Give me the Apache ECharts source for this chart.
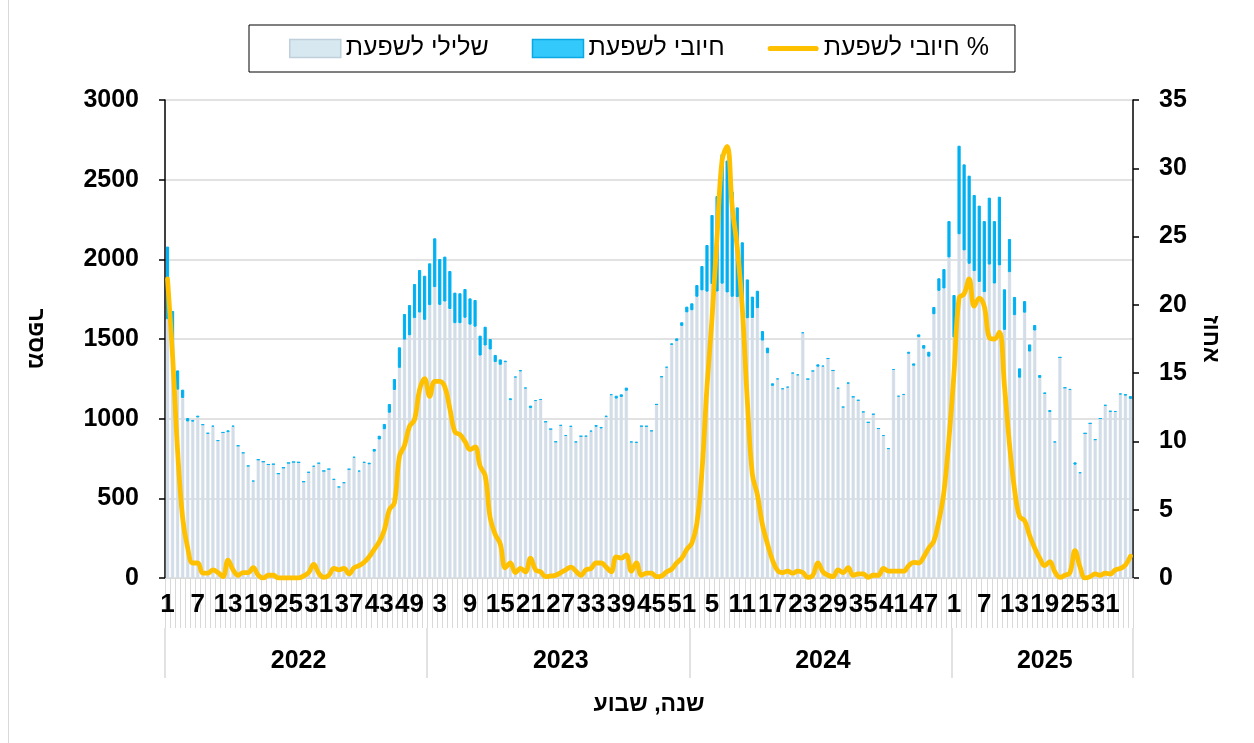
<!DOCTYPE html>
<html><head><meta charset="utf-8">
<script src="https://cdn.jsdelivr.net/npm/echarts@6/dist/echarts.min.js"></script>
<style>html,body{margin:0;padding:0;background:#fff;}#c{width:1254px;height:743px;}#f{position:absolute;left:8px;top:0;width:0;height:743px;border-left:1px solid #d9d9d9;}</style>
</head><body><div id="c"></div><div id="f"></div>
<script>
const yearLabels = ['2022', '2023', '2024', '2025'];
const weeksPerYear = [52, 52, 52, 36];
const yearBoundaryIdx = [0, 52, 104, 156];
const yearLabelIdx = [26, 78, 130, 174];

const negative2022 = [1624,1403,1182,1130,982,981,1008,961,907,950, 861,913,915,950,829,784,702,606,742,730, 712,714,655,692,722,728,726,604,662,698, 719,672,683,617,570,596,682,755,668,722, 713,793,869,933,1037,1180,1319,1496,1523,1631, 1666,1620];
const positive2022 = [456,273,121,52,22,11,11,3,3,6, 3,1,12,6,2,3,3,5,1,0, 1,1,0,0,0,0,0,1,3,7, 3,0,1,4,3,4,2,6,6,8, 11,17,24,34,55,69,129,161,190,214, 267,277];
const percent2022 = [21.9,16.3,9.3,4.4,2.2,1.1,1.1,0.35,0.35,0.6, 0.4,0.1,1.3,0.6,0.2,0.4,0.4,0.75,0.2,0, 0.2,0.2,0,0,0,0,0,0.15,0.4,1.0, 0.35,0.05,0.2,0.7,0.6,0.7,0.3,0.75,0.9,1.15, 1.55,2.1,2.65,3.5,5.0,5.5,8.9,9.7,11.1,11.6, 13.8,14.6];

const negative2023 = [1712,1825,1714,1735,1688,1599,1599,1633,1590,1577, 1396,1459,1434,1355,1338,1354,1116,1259,1296,1190, 1066,1110,1118,980,934,854,956,892,948,852, 889,888,919,949,938,1011,1148,1126,1136,1175, 852,847,952,951,922,1089,1262,1320,1463,1487, 1582,1667];
const positive2023 = [263,307,288,282,239,192,188,181,165,168, 125,118,66,45,34,10,12,5,9,5, 16,7,5,1,1,2,4,5,8,4, 2,5,6,11,10,8,5,18,17,20, 4,9,2,3,3,1,2,6,10,17, 23,36];
const percent2023 = [13.3,14.4,14.4,14.0,12.4,10.7,10.5,10.0,9.4,9.6, 8.2,7.5,4.4,3.2,2.5,0.75,1.1,0.4,0.7,0.45, 1.45,0.6,0.45,0.1,0.15,0.2,0.4,0.6,0.8,0.5, 0.2,0.6,0.7,1.1,1.1,0.8,0.45,1.55,1.45,1.7, 0.5,1.1,0.2,0.35,0.35,0.1,0.15,0.45,0.65,1.1, 1.45,2.1];

const negative2024 = [1680,1765,1805,1797,1845,1798,1847,1792,1765,1763, 1697,1630,1632,1693,1490,1410,1206,1246,1185,1195, 1284,1272,1536,1248,1298,1326,1327,1376,1302,1188, 1071,1219,1136,1114,1041,977,1027,937,891,810, 1305,1138,1149,1407,1332,1512,1439,1389,1655,1802, 1817,2012];
const positive2024 = [44,74,153,293,433,599,814,828,660,563, 410,244,134,110,60,36,16,7,5,6, 5,6,6,1,3,15,6,3,1,7, 4,9,2,3,3,0,2,2,6,4, 7,6,6,13,15,17,23,31,46,79, 122,228];
const percent2024 = [2.55,4.0,7.8,14.0,19.0,25.0,30.6,31.6,27.2,24.2, 19.8,13.0,7.6,6.1,3.9,2.5,1.3,0.55,0.4,0.5, 0.35,0.5,0.4,0.05,0.2,1.1,0.45,0.2,0.1,0.6, 0.4,0.75,0.2,0.3,0.3,0.05,0.2,0.2,0.7,0.5, 0.5,0.5,0.5,0.9,1.15,1.1,1.55,2.2,2.7,4.2, 6.3,10.2];

const negative2025 = [1510,2157,2056,1972,1926,1858,1794,1967,1848,1962, 1557,1919,1649,1257,1665,1421,1553,1256,1155,1041, 852,1384,1193,1181,711,658,908,970,867,1000, 1082,1045,1042,1151,1144,1124];
const positive2025 = [266,556,540,553,478,479,446,420,392,431, 255,209,115,59,73,45,35,18,10,13, 4,1,2,5,15,5,0,1,3,2, 4,3,6,8,11,18];
const percent2025 = [15.0,20.5,20.8,21.9,19.9,20.5,19.9,17.6,17.5,18.0, 14.1,9.8,6.5,4.5,4.2,3.1,2.2,1.45,0.9,1.2, 0.45,0.05,0.2,0.4,2.0,0.8,0,0.1,0.3,0.2, 0.35,0.3,0.6,0.7,0.95,1.6];

const negative = negative2022.concat(negative2023, negative2024, negative2025);
const positive = positive2022.concat(positive2023, positive2024, positive2025);
const percent = percent2022.concat(percent2023, percent2024, percent2025);

const weekCategories = [];
const yearOfWeek = [];
yearLabels.forEach(function (y, k) {
  for (let w = 1; w <= weeksPerYear[k]; w++) { weekCategories.push(String(w)); yearOfWeek.push(y); }
});

const FONT = "'Liberation Sans', Arial, 'DejaVu Sans', sans-serif";
const NAME_NEG = 'שלילי לשפעת';
const NAME_POS = 'חיובי לשפעת';
const NAME_PCT = 'חיובי לשפעת %';

const chart = echarts.init(document.getElementById('c'), null, {renderer: 'canvas'});
chart.setOption({
  animation: false,
  backgroundColor: '#fff',
  textStyle: {fontFamily: FONT},
  legend: {
    left: 249, top: 25, padding: [11, 26, 11, 40], itemGap: 43,
    itemWidth: 51, itemHeight: 18,
    borderColor: '#000', borderWidth: 1,
    textStyle: {fontSize: 25, color: '#000', fontFamily: FONT},
    data: [
      {name: NAME_NEG, icon: 'rect', itemStyle: {color: '#d8e8f1', borderColor: '#bfd0dc', borderWidth: 1.5}},
      {name: NAME_POS, icon: 'rect', itemStyle: {color: '#33c9fb', borderColor: '#0aa8e4', borderWidth: 1.5}},
      {name: NAME_PCT, icon: 'path://M3,0 L57,0 A3,3 0 0 1 57,6 L3,6 A3,3 0 0 1 3,0 Z', itemStyle: {color: '#ffc000', borderWidth: 0}}
    ]
  },
  grid: [
    {left: 165, right: 121, top: 100, bottom: 165},
    {left: 165, right: 121, top: 628, bottom: 65}
  ],
  xAxis: [
    {
      type: 'category', gridIndex: 0, data: weekCategories, boundaryGap: true,
      axisLine: {show: true, lineStyle: {color: '#d9d9d9', width: 1}},
      axisTick: {show: true, interval: 0, length: 50, lineStyle: {color: '#d9d9d9', width: 1}},
      axisLabel: {interval: 5, margin: 14, fontSize: 26, fontWeight: 'bold', color: '#000', fontFamily: FONT},
      name: 'שנה, שבוע', nameLocation: 'middle', nameGap: 115,
      nameTextStyle: {fontSize: 23, fontWeight: 'bold', color: '#000', fontFamily: FONT}
    },
    {
      // second level of the category axis: years, with separators between them
      type: 'category', gridIndex: 1, data: yearOfWeek, boundaryGap: true, position: 'bottom',
      axisLine: {show: false},
      axisTick: {show: false},
      axisLabel: {inside: true, margin: 4, interval: function (i) { return yearLabelIdx.indexOf(i) >= 0; },
                  fontSize: 25, fontWeight: 'bold', color: '#000', fontFamily: FONT},
      splitLine: {show: true, interval: function (i) { return yearBoundaryIdx.indexOf(i) >= 0; },
                  lineStyle: {color: '#d9d9d9', width: 1.5}}
    }
  ],
  yAxis: [
    {
      type: 'value', gridIndex: 0, min: 0, max: 3000, interval: 500, position: 'left',
      axisLine: {show: true, lineStyle: {color: '#000', width: 1.5}},
      axisTick: {show: true, length: 6, lineStyle: {color: '#000', width: 1.5}},
      axisLabel: {margin: 26, fontSize: 25, fontWeight: 'bold', color: '#000', fontFamily: FONT,
                  formatter: function (v) { return String(v); }},
      splitLine: {show: true, lineStyle: {color: '#d9d9d9', width: 1.5}},
      name: 'מספר', nameLocation: 'middle', nameRotate: -90, nameGap: 118,
      nameTextStyle: {fontSize: 23, fontWeight: 'bold', color: '#000', fontFamily: FONT}
    },
    {
      type: 'value', gridIndex: 0, min: 0, max: 35, interval: 5, position: 'right',
      axisLine: {show: true, lineStyle: {color: '#000', width: 1.5}},
      axisTick: {show: true, length: 6, lineStyle: {color: '#000', width: 1.5}},
      axisLabel: {margin: 26, fontSize: 25, fontWeight: 'bold', color: '#000', fontFamily: FONT,
                  formatter: function (v) { return String(v); }},
      splitLine: {show: false},
      name: 'אחוז', nameLocation: 'middle', nameRotate: -90, nameGap: 66,
      nameTextStyle: {fontSize: 23, fontWeight: 'bold', color: '#000', fontFamily: FONT}
    },
    {type: 'value', gridIndex: 1, show: false, min: 0, max: 1}
  ],
  series: [
    {name: NAME_NEG, type: 'bar', stack: 'tests', data: negative, barWidth: 3.2,
     itemStyle: {color: '#d3dde8', borderColor: '#d3dde8', borderWidth: 0.4}},
    {name: NAME_POS, type: 'bar', stack: 'tests', data: positive, barWidth: 3.2,
     itemStyle: {color: '#00b0f0', borderColor: '#00b0f0', borderWidth: 1}},
    {name: NAME_PCT, type: 'line', yAxisIndex: 1, data: percent, smooth: 0.4, symbol: 'none', z: 5,
     lineStyle: {color: '#ffc000', width: 4.8, cap: 'round', join: 'round'}, itemStyle: {color: '#ffc000'}}
  ]
});
</script></body></html>
